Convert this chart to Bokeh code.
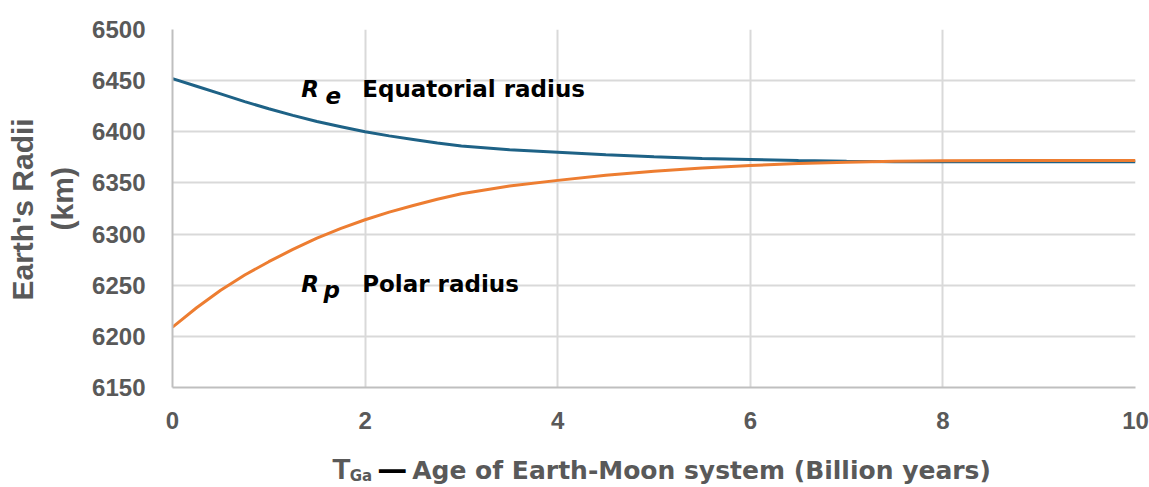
from bokeh.plotting import figure
from bokeh.models import Range1d, FixedTicker, Label
from bokeh.layouts import row, column
from bokeh.embed import file_html
from bokeh.resources import INLINE

# ---- data ----
t_ga = [0, 0.25, 0.5, 0.75, 1, 1.25, 1.5, 1.75, 2, 2.25, 2.5, 2.75, 3,
        3.5, 4, 4.5, 5, 5.5, 6, 6.5, 7, 7.5, 8, 9, 10]
r_equatorial = [6452, 6444.5, 6437, 6429.5, 6422.5, 6416, 6410, 6405, 6400,
                6396, 6392.5, 6389, 6386, 6382.5, 6380, 6377.5, 6375.5, 6374,
                6373, 6372, 6371.2, 6370.8, 6370.7, 6370.6, 6370.6]
r_polar = [6209, 6228, 6245, 6260, 6273, 6285, 6296, 6305.5, 6314,
           6321.5, 6328, 6334, 6339.5, 6347, 6352.5, 6357.5, 6361.5, 6364.5,
           6367, 6369, 6370.3, 6371.2, 6371.6, 6371.9, 6372]
x_ticks = [0, 2, 4, 6, 8, 10]
y_ticks = [6150, 6200, 6250, 6300, 6350, 6400, 6450, 6500]
y_title_lines = ["Earth's  Radii", "(km)"]
x_title_main = "Age of Earth-Moon system (Billion years)"

GRAY = "#595959"
W, H = 1149, 487
YT_W = 80          # width of the y-title strip
MAIN_H = 440       # height of the main chart row
XT_H = H - MAIN_H  # height of the x-title strip


def blank(width, height):
    f = figure(width=width, height=height, output_backend="svg",
               toolbar_location=None, x_axis_type=None, y_axis_type=None,
               x_range=Range1d(0, width), y_range=Range1d(0, height),
               min_border=0, min_border_left=0, min_border_right=0,
               min_border_top=0, min_border_bottom=0)
    f.outline_line_color = None
    f.background_fill_color = "white"
    f.border_fill_color = "white"
    return f


def lab(fig, x, y, text, font, size, style="bold", color="black", angle=0,
        align="left"):
    fig.add_layout(Label(x=x, y=y, text=text, text_font=font,
                         text_font_size=size, text_font_style=style,
                         text_color=color, angle=angle, text_align=align,
                         text_baseline="alphabetic"))


# ---- main chart ----
p = figure(width=W - YT_W, height=MAIN_H, output_backend="svg",
           toolbar_location=None,
           x_range=Range1d(0, 10), y_range=Range1d(6150, 6500),
           min_border_left=172 - YT_W, min_border_right=W - 1135,
           min_border_top=29, min_border_bottom=MAIN_H - 387)
p.outline_line_color = None
p.background_fill_color = "white"
p.border_fill_color = "white"

for ax, ticks in ((p.xaxis, x_ticks), (p.yaxis, y_ticks)):
    ax.ticker = FixedTicker(ticks=ticks)
    ax.minor_tick_line_color = None
    ax.major_tick_in = 0
    ax.major_tick_out = 0
    ax.axis_line_color = "#BFBFBF"
    ax.axis_line_width = 2
    ax.major_label_text_font = "Liberation Sans"
    ax.major_label_text_font_style = "bold"
    ax.major_label_text_font_size = "24px"
    ax.major_label_text_color = GRAY
p.yaxis.major_label_standoff = 27
p.xaxis.major_label_standoff = 24

p.xgrid.grid_line_color = "#D9D9D9"
p.ygrid.grid_line_color = "#D9D9D9"
p.xgrid.grid_line_width = 2
p.ygrid.grid_line_width = 2

p.line(t_ga, r_equatorial, line_color="#1E6286", line_width=3)
p.line(t_ga, r_polar, line_color="#ED7D31", line_width=3)

# curve annotations
lab(p, 1.3365, 6441.8, "R", "DejaVu Sans", "23px", "bold italic")
lab(p, 1.5888, 6435.2, "e", "DejaVu Sans", "23px", "bold italic")
lab(p, 1.9699, 6441.8, "Equatorial radius", "DejaVu Sans", "23px")
lab(p, 1.3365, 6251.6, "R", "DejaVu Sans", "23px", "bold italic")
lab(p, 1.568, 6245.4, "p", "DejaVu Sans", "23px", "bold italic")
lab(p, 1.9699, 6251.6, "Polar radius", "DejaVu Sans", "23px")

# ---- y-axis title strip ----
yt = blank(YT_W, MAIN_H)
lab(yt, 22.3, MAIN_H - 216, y_title_lines[0], "Liberation Sans", "30px",
    color=GRAY, angle=1.5708, align="center")
lab(yt, 62, MAIN_H - 208, y_title_lines[1], "Liberation Sans", "30px",
    color=GRAY, angle=1.5708, align="center")

# ---- x-axis title strip: T_Ga — Age of ... ----
xt = blank(W, XT_H)
lab(xt, 331.7, H - 468.0, "T", "Liberation Sans", "30px", color=GRAY)
lab(xt, 349.3, H - 475.5, "Ga", "DejaVu Sans", "15px", color=GRAY)
lab(xt, 376.7, H - 468.0, "\u2014", "DejaVu Sans", "30px", color="black")
lab(xt, 411.7, H - 469.5, x_title_main, "DejaVu Sans", "25px", color=GRAY)

layout = column(row(yt, p), xt)
open("out.html", "w").write(file_html(layout, INLINE))
